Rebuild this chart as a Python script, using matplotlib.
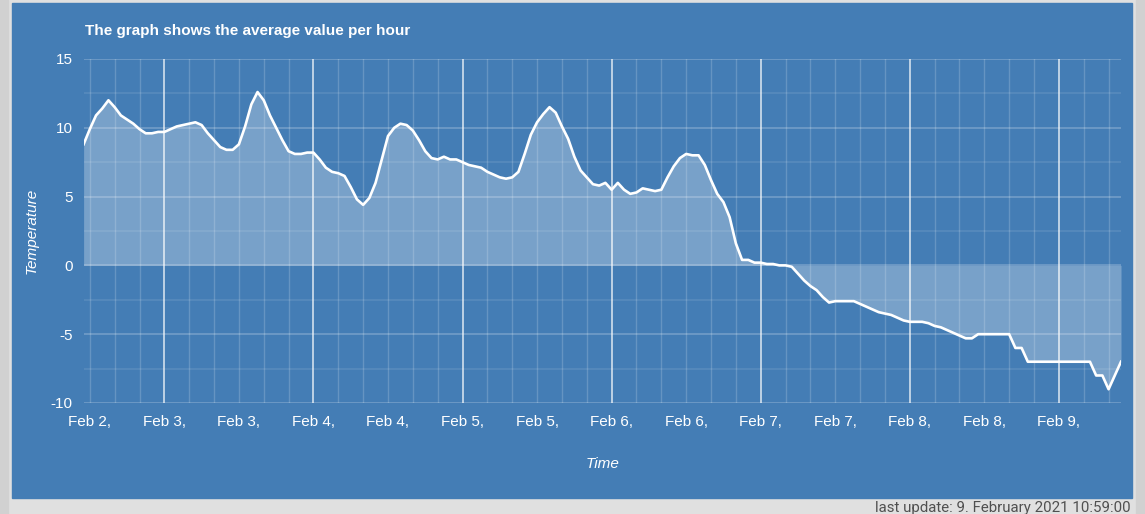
import numpy as np
import pandas as pd
import matplotlib
matplotlib.use("Agg")
import matplotlib.pyplot as plt
import matplotlib.dates as mdates
from matplotlib.patches import Rectangle

plt.rcParams["axes.unicode_minus"] = False

# hourly averages, Feb 2 11:00 -> Feb 9 10:00
start = "2021-02-02 11:00"
temps = [
    8.8, 9.9, 10.9, 11.4, 12.0, 11.5, 10.9, 10.6, 10.3, 9.9, 9.6, 9.6,
    9.7, 9.7, 9.9, 10.1, 10.2, 10.3, 10.4, 10.2, 9.6, 9.1, 8.6, 8.4,
    8.4, 8.8, 10.1, 11.7, 12.6, 12.0, 10.9, 10.0, 9.1, 8.3, 8.1, 8.1,
    8.2, 8.2, 7.7, 7.1, 6.8, 6.7, 6.5, 5.7, 4.8, 4.4, 4.9, 6.0,
    7.7, 9.4, 10.0, 10.3, 10.2, 9.8, 9.1, 8.3, 7.8, 7.7, 7.9, 7.7,
    7.7, 7.5, 7.3, 7.2, 7.1, 6.8, 6.6, 6.4, 6.3, 6.4, 6.8, 8.1,
    9.5, 10.4, 11.0, 11.5, 11.1, 10.1, 9.2, 7.9, 6.9, 6.4, 5.9, 5.8,
    6.0, 5.5, 6.0, 5.5, 5.2, 5.3, 5.6, 5.5, 5.4, 5.5, 6.4, 7.2,
    7.8, 8.1, 8.0, 8.0, 7.3, 6.2, 5.2, 4.6, 3.5, 1.6, 0.4, 0.4,
    0.2, 0.2, 0.1, 0.1, 0.0, 0.0, -0.1, -0.6, -1.1, -1.5, -1.8, -2.3,
    -2.7, -2.6, -2.6, -2.6, -2.6, -2.8, -3.0, -3.2, -3.4, -3.5, -3.6, -3.8,
    -4.0, -4.1, -4.1, -4.1, -4.2, -4.4, -4.5, -4.7, -4.9, -5.1, -5.3, -5.3,
    -5.0, -5.0, -5.0, -5.0, -5.0, -5.0, -6.0, -6.0, -7.0, -7.0, -7.0, -7.0,
    -7.0, -7.0, -7.0, -7.0, -7.0, -7.0, -7.0, -8.0, -8.0, -9.0, -8.0, -7.0,
]
times = pd.date_range(start, periods=len(temps), freq="h")

tick_times = pd.date_range("2021-02-02 12:00", "2021-02-09 00:00", freq="12h")
tick_labels = ["Feb 2,", "Feb 3,", "Feb 3,", "Feb 4,", "Feb 4,", "Feb 5,", "Feb 5,",
               "Feb 6,", "Feb 6,", "Feb 7,", "Feb 7,", "Feb 8,", "Feb 8,", "Feb 9,"]
y_ticks = [-10, -5, 0, 5, 10, 15]

panel = "#447db5"
fig = plt.figure(figsize=(11.45, 5.14), dpi=100, facecolor="#e0e0e0")
W, H = 1145, 514

# side strips and blue panel
fig.patches.append(Rectangle((0, 0), 8 / W, 1, transform=fig.transFigure,
                             color="#d1d1d1", zorder=0))
fig.patches.append(Rectangle((1136 / W, 0), 9 / W, 1, transform=fig.transFigure,
                             color="#d1d1d1", zorder=0))
fig.patches.append(Rectangle((12 / W, 1 - 497.5 / H), (1132 - 12) / W, (497.5 - 3) / H,
                             transform=fig.transFigure, color=panel, zorder=0))

x0, x1 = 83.6, 1121
y_top, y_bot = 59, 403
ax = fig.add_axes([x0 / W, 1 - y_bot / H, (x1 - x0) / W, (y_bot - y_top) / H])
ax.set_facecolor("none")
ax.set_zorder(5)

tnum = mdates.date2num(times)
ax.set_xlim(tnum[0], tnum[-1])
ax.set_ylim(-10, 15)

# grid: thin every 4 hours, bright at midnight
for t in pd.date_range("2021-02-02 12:00", "2021-02-09 08:00", freq="4h"):
    if t.hour == 0:
        ax.axvline(t, color="white", alpha=0.7, lw=1.3, zorder=1)
    else:
        ax.axvline(t, color="white", alpha=0.18, lw=1.0, zorder=1)
for v in np.arange(-10, 15.1, 2.5):
    a = 0.25 if v % 5 == 0 else 0.11
    ax.axhline(v, color="white", alpha=a, lw=1.2, zorder=1)

ax.fill_between(times, temps, 0, color="white", alpha=0.28, lw=0, zorder=2)
ax.plot(times, temps, color="white", lw=1.9, zorder=3)

for s in ax.spines.values():
    s.set_visible(False)

ax.set_xticks(tick_times)
ax.set_xticklabels(tick_labels)
ax.set_yticks(y_ticks)
ax.tick_params(length=0, colors="white", labelsize=11)
ax.tick_params(axis="x", pad=9)
ax.tick_params(axis="y", pad=8)
for lab in ax.get_xticklabels() + ax.get_yticklabels():
    lab.set_family("Liberation Sans")

fig.text(x0 / W + 1.5 / W, 1 - 31 / H, "The graph shows the average value per hour",
         color="white", fontsize=11, fontweight="bold", family="Liberation Sans",
         va="center", ha="left")
fig.text(32 / W, 1 - 231 / H, "Temperature", color="white", fontsize=11,
         style="italic", family="Liberation Sans", rotation=90, va="center", ha="center")
fig.text(603 / W, 1 - 464 / H, "Time", color="white", fontsize=11,
         style="italic", family="Liberation Sans", va="center", ha="center")
fig.text(1131 / W, 1 - 512 / H, "last update: 9. February 2021 10:59:00",
         color="#505050", fontsize=10.8, family="Roboto",
         va="baseline", ha="right")

fig.savefig("out.png", dpi=100, facecolor=fig.get_facecolor())
